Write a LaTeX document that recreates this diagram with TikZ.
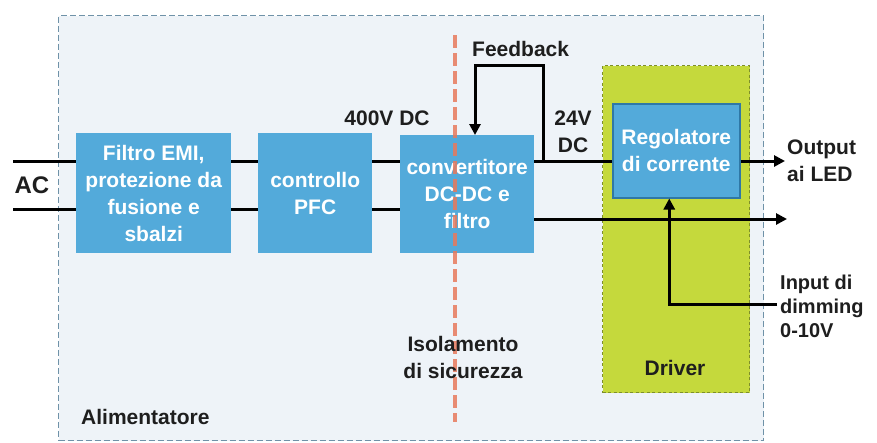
\documentclass[tikz,border=0pt]{standalone}
\usepackage{fontspec}
\setmainfont{Liberation Sans}
\usetikzlibrary{arrows.meta,calc}
\definecolor{bgfill}{HTML}{EEF3F8}
\definecolor{bgborder}{HTML}{6F92A8}
\definecolor{boxblue}{HTML}{53AADA}
\definecolor{regborder}{HTML}{2F78A6}
\definecolor{drvgreen}{HTML}{C5D93C}
\definecolor{drvborder}{HTML}{7E8F2A}
\definecolor{isored}{HTML}{E8795C}
\definecolor{labeltext}{HTML}{1E1E1E}
\tikzset{
  blockbox/.style={fill=boxblue, draw=none, text=white, inner sep=0pt, align=center,
    font=\bfseries\fontsize{21}{27}\selectfont, anchor=north west},
  lbl/.style={text=labeltext, inner sep=0pt, font=\bfseries\fontsize{21}{27}\selectfont},
  conn/.style={draw=black, line width=3pt},
  arrowconn/.style={conn, -{Triangle[length=11pt,width=11pt]}},
}
\begin{document}
\begin{tikzpicture}[x=1pt,y=-1pt]
\useasboundingbox (0,0) rectangle (877,442);
% outer power supply container
\node[draw=bgborder, fill=bgfill, line width=1.4pt, dash pattern=on 6pt off 3pt,
  minimum width=705pt, minimum height=425pt, inner sep=0pt, anchor=north west] (alim) at (58,15) {};
\node[lbl, anchor=west] (alimlbl) at (81,417) {Alimentatore};
% driver container
\node[draw=drvborder, fill=drvgreen, line width=1.3pt, dash pattern=on 3pt off 2.5pt,
  minimum width=147pt, minimum height=327pt, inner sep=0pt, anchor=north west] (driver) at (602,65) {};
\node[lbl] (drvlbl) at (675,368) {Driver};
% blocks
\node[blockbox, minimum width=155pt, minimum height=120pt] (filtro) at (76,133)
  {Filtro EMI,\\protezione da\\fusione e\\sbalzi};
\node[blockbox, minimum width=114pt, minimum height=120pt] (pfc) at (258,133)
  {controllo\\PFC};
\node[blockbox, minimum width=134pt, minimum height=118pt] (conv) at (400,135)
  {convertitore\\DC-DC e\\filtro};
\node[blockbox, draw=regborder, line width=1.5pt, minimum width=127pt, minimum height=94pt] (reg) at (612,103)
  {Regolatore\\di corrente};
% coordinates
\coordinate (acT) at (13,161);
\coordinate (acB) at (13,209);
\coordinate (fb) at (543,161);
\coordinate (fbturn) at (475,65);
\coordinate (outT) at (785,161);
\coordinate (outB) at (787,219);
\coordinate (dim) at (777,304);
\coordinate (isoT) at (455,35);
\coordinate (isoB) at (455,422);
% connectors
\draw[conn] (acT) -- (filtro.west |- acT);
\draw[conn] (acB) -- (filtro.west |- acB);
\draw[conn] (filtro.east |- acT) -- (pfc.west |- acT);
\draw[conn] (filtro.east |- acB) -- (pfc.west |- acB);
\draw[conn] (pfc.east |- acT) -- (conv.west |- acT);
\draw[conn] (pfc.east |- acB) -- (conv.west |- acB);
\draw[conn] (conv.east |- acT) -- (reg.west |- acT);
\draw[arrowconn] (fb) |- (fbturn) -- (fbturn |- conv.north);
\draw[arrowconn] (reg.east |- outT) -- (outT);
\draw[arrowconn] (conv.east |- outB) -- (outB);
\draw[arrowconn] (dim) -| ([xshift=-7pt]reg.south);
% isolation line
\draw[isored, line width=3.5pt, dash pattern=on 13pt off 5pt, opacity=0.85] (isoT) -- (isoB);
% labels
\node[lbl, font=\bfseries\fontsize{24}{27}\selectfont] (aclbl) at (32,185) {AC};
\node[lbl] (v400) at (387,118) {400V DC};
\node[lbl, anchor=west] (fblbl) at (472,49) {Feedback};
\node[lbl, align=center] (v24) at (573,132) {24V\\DC};
\node[lbl, align=left, anchor=west] (outlbl) at (787,161) {Output\\ai LED};
\node[lbl, align=left, anchor=west, font=\bfseries\fontsize{20}{24}\selectfont] (dimlbl) at (780,306) {Input di\\dimming\\0-10V};
\node[lbl, align=center] (isolbl) at (463,357) {Isolamento\\di sicurezza};
\end{tikzpicture}
\end{document}
